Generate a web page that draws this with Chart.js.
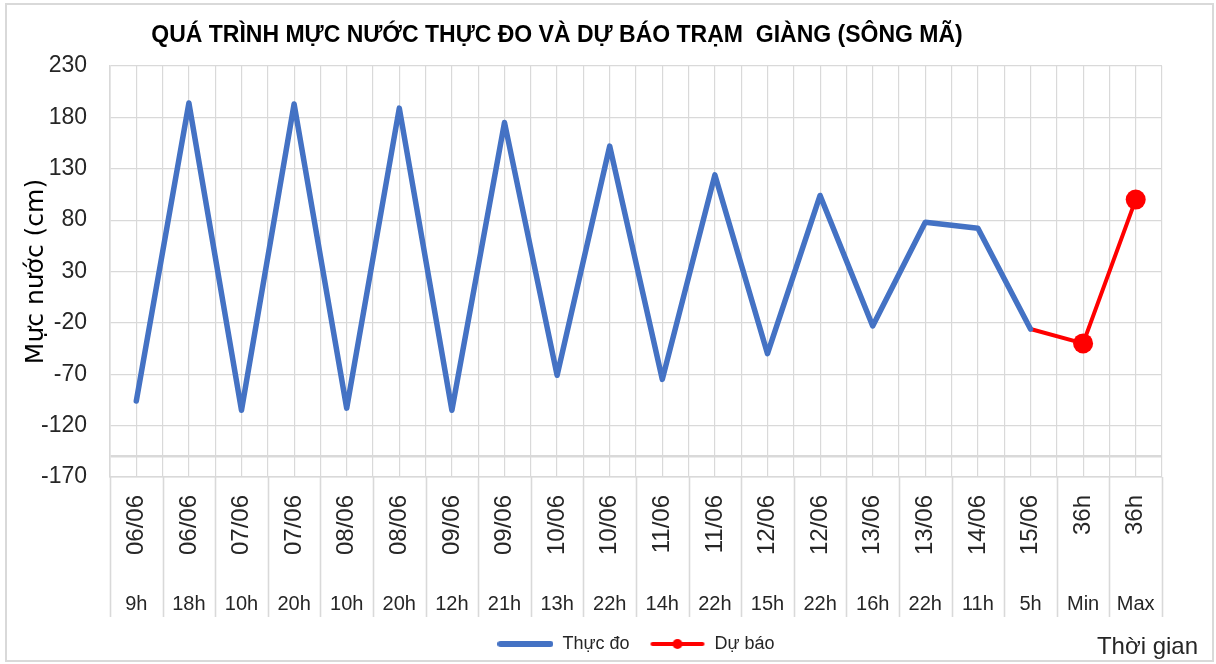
<!DOCTYPE html>
<html>
<head>
<meta charset="utf-8">
<title>Mực nước trạm Giàng</title>
<script src="https://cdn.jsdelivr.net/npm/chart.js@4.4.1/dist/chart.umd.min.js"></script>
<style>
  html, body { margin: 0; padding: 0; background: #fff; }
  #wrap { position: relative; width: 1216px; height: 664px; }
  #frame { position: absolute; left: 5px; top: 3px; width: 1209px; height: 659px;
           border: 2px solid #d9d9d9; box-sizing: border-box; pointer-events: none; }
</style>
</head>
<body>
<div id="wrap">
  <canvas id="waterChart" width="1216" height="664"></canvas>
  <div id="frame"></div>
</div>
<script>
// ----------------------
// Data
// ----------------------
const dateLabels = ["06/06", "06/06", "07/06", "07/06", "08/06", "08/06", "09/06", "09/06", "10/06", "10/06",
                    "11/06", "11/06", "12/06", "12/06", "13/06", "13/06", "14/06", "15/06", "36h", "36h"];
const hourLabels = ["9h", "18h", "10h", "20h", "10h", "20h", "12h", "21h", "13h", "22h",
                    "14h", "22h", "15h", "22h", "16h", "22h", "11h", "5h", "Min", "Max"];
const measured = [-96, 194, -105, 193, -103, 189, -105, 175, -71, 152,
                  -75, 124, -50, 104, -23, 78, 72, -26, null, null];
const forecast = [null, null, null, null, null, null, null, null, null, null,
                  null, null, null, null, null, null, null, -26, -40, 100];
const yTicks = [230, 180, 130, 80, 30, -20, -70, -120, -170];
const yExtraLines = [-150];

const chartTitle = "QUÁ TRÌNH MỰC NƯỚC THỰC ĐO VÀ DỰ BÁO TRẠM  GIÀNG (SÔNG MÃ)";
const yTitle = "Mực nước (cm)";
const xNote = "Thời gian";

// ----------------------
// Styles
// ----------------------
const SANS = "'Liberation Sans', Arial, sans-serif";
const GRID = "#d9d9d9";
const TEXT = "#262626";
const BLUE = "#4472C4";
const RED = "#FF0000";

// legend swatches (line, or line with a dot)
function makeSwatch(color, width, dot) {
  const c = document.createElement("canvas");
  c.width = 56; c.height = 14;
  const g = c.getContext("2d");
  g.strokeStyle = color; g.lineWidth = width; g.lineCap = "round";
  g.beginPath(); g.moveTo(3, 7); g.lineTo(53, 7); g.stroke();
  if (dot) { g.fillStyle = color; g.beginPath(); g.arc(28, 7, 5, 0, Math.PI * 2); g.fill(); }
  return c;
}
const blueSwatch = makeSwatch(BLUE, 6, false);
const redSwatch = makeSwatch(RED, 4, true);

const firstForecast = forecast.findIndex(v => v !== null);

// ----------------------
// Decorations: title, separators, axis note
// ----------------------
const decor = {
  id: "decor",
  afterDraw(chart) {
    const ctx = chart.ctx;
    const xs = chart.scales.x;
    const hs = chart.scales.xh;
    ctx.save();
    // category separators below the plot
    const half = (xs.getPixelForValue(1) - xs.getPixelForValue(0)) / 2;
    ctx.strokeStyle = GRID;
    ctx.lineWidth = 1.6;
    for (let i = 0; i <= dateLabels.length; i++) {
      const px = Math.round(xs.getPixelForValue(i) - half) + 0.5;
      ctx.beginPath();
      ctx.moveTo(px, chart.chartArea.bottom);
      ctx.lineTo(px, hs.top + 40);
      ctx.stroke();
    }
    // title
    ctx.fillStyle = "#000";
    ctx.font = "bold 23px " + SANS;
    ctx.textAlign = "center";
    ctx.textBaseline = "alphabetic";
    ctx.fillText(chartTitle, 557, 42);
    // x note
    ctx.font = "24px " + SANS;
    ctx.fillStyle = TEXT;
    ctx.textAlign = "right";
    ctx.fillText(xNote, 1198, 654);
    ctx.restore();
  }
};

// ----------------------
// Chart
// ----------------------
const ctx = document.getElementById("waterChart").getContext("2d");
const chart = new Chart(ctx, {
  type: "line",
  data: {
    labels: dateLabels,
    datasets: [
      {
        label: "Thực đo",
        data: measured,
        borderColor: BLUE,
        backgroundColor: BLUE,
        borderWidth: 5.5,
        pointRadius: 0,
        borderCapStyle: "round",
        borderJoinStyle: "round",
        tension: 0
      },
      {
        label: "Dự báo",
        data: forecast,
        borderColor: RED,
        backgroundColor: RED,
        borderWidth: 4,
        pointRadius: c => (c.dataIndex > firstForecast ? 10 : 0),
        pointHoverRadius: c => (c.dataIndex > firstForecast ? 10 : 0),
        pointBorderWidth: 0,
        borderCapStyle: "round",
        tension: 0
      }
    ]
  },
  options: {
    responsive: false,
    animation: false,
    devicePixelRatio: 1,
    layout: { padding: { top: 66, right: 54, bottom: 1, left: 0 } },
    plugins: {
      title: { display: false },
      tooltip: { enabled: false },
      legend: {
        position: "bottom",
        fullSize: false,
        labels: {
          usePointStyle: true,
          pointStyleWidth: 56,
          padding: 20,
          color: TEXT,
          font: { family: SANS, size: 18 },
          generateLabels: () => [
            { text: "Thực đo", pointStyle: blueSwatch, fillStyle: BLUE, strokeStyle: BLUE, lineWidth: 0, datasetIndex: 0, fontColor: TEXT },
            { text: "Dự báo", pointStyle: redSwatch, fillStyle: RED, strokeStyle: RED, lineWidth: 0, datasetIndex: 1, fontColor: TEXT }
          ]
        }
      }
    },
    scales: {
      x: {
        type: "category",
        position: "bottom",
        weight: 1,
        offset: true,
        grid: { offset: true, color: GRID, lineWidth: 1.2, drawTicks: false },
        border: { color: GRID, width: 1.6 },
        ticks: {
          autoSkip: false, minRotation: 90, maxRotation: 90, padding: 18,
          color: TEXT, font: { family: SANS, size: 24 }
        },
        afterFit: s => { s.height = 100; }
      },
      xh: {
        type: "category",
        labels: hourLabels,
        position: "bottom",
        weight: 2,
        offset: true,
        grid: { display: false, drawTicks: false },
        border: { display: false },
        ticks: {
          autoSkip: false, maxRotation: 0, minRotation: 0, padding: 15,
          color: TEXT, font: { family: SANS, size: 20 }
        },
        afterFit: s => { s.height = 38; }
      },
      xg: {
        type: "category",
        position: "top",
        offset: true,
        grid: { offset: false, color: GRID, lineWidth: 1.2, drawTicks: false },
        border: { display: false },
        ticks: { display: false },
        afterFit: s => { s.height = 0; }
      },
      y: {
        min: yTicks[yTicks.length - 1],
        max: yTicks[0],
        afterBuildTicks: s => {
          s.ticks = yTicks.concat(yExtraLines).map(v => ({ value: v }));
        },
        grid: {
          color: GRID,
          drawTicks: false,
          lineWidth: c => (c.tick && yExtraLines.includes(c.tick.value) ? 2.5 : 1.2)
        },
        border: { color: GRID, width: 1.6 },
        ticks: {
          padding: 23,
          color: TEXT,
          font: { family: SANS, size: 23 },
          callback: v => (yExtraLines.includes(v) ? "" : v)
        },
        title: {
          display: true,
          text: yTitle,
          color: "#000",
          font: { family: "'DejaVu Sans', sans-serif", size: 25 },
          padding: { top: 21, bottom: 0 }
        },
        afterFit: s => { s.width = 110; }
      }
    }
  },
  plugins: [decor]
});
</script>
</body>
</html>
